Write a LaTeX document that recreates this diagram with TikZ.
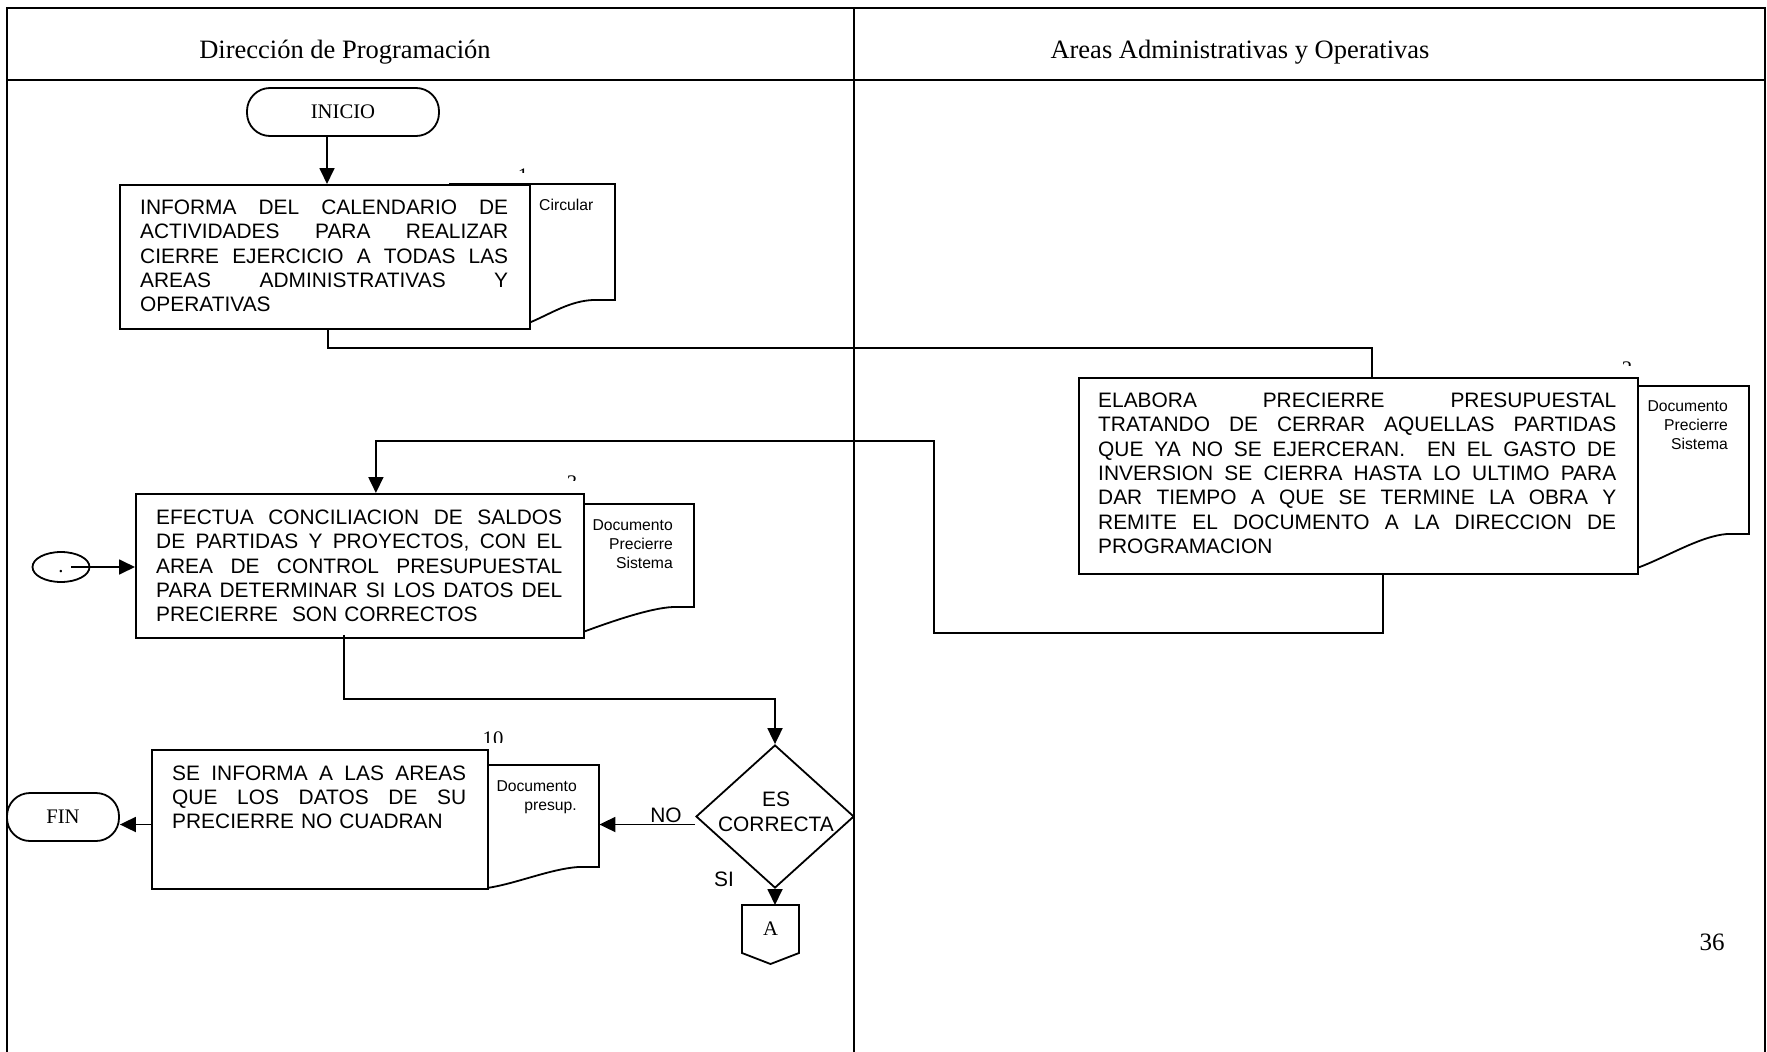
\documentclass[tikz,border=0pt]{standalone}
\usepackage{fontspec}
\newfontfamily\arialf{Liberation Sans}
\newfontfamily\tnr{Liberation Serif}
\usetikzlibrary{arrows.meta,shapes.geometric,calc}
\newcommand\jl[2]{{\spaceskip=0.278em plus 1fil minus 0.05em\xspaceskip=\spaceskip\makebox[#1][s]{#2}}}
\begin{document}
\begin{tikzpicture}[x=1pt,y=-1pt,
  frame/.style={line width=2pt},
  ln/.style={line width=1.8pt},
  arr/.style={line width=1.8pt,-{Triangle[length=16pt,width=15pt]}},
  box/.style={draw,line width=1.8pt,fill=white,rectangle,inner sep=0pt,anchor=north west},
  ghost/.style={rectangle,inner sep=0pt,anchor=north west},
  btxt/.style={inner sep=0pt,anchor=base west,align=left,font=\arialf\fontsize{20.9pt}{24.3pt}\selectfont},
  dtxt/.style={inner sep=0pt,anchor=base east,align=right,text width=120pt,font=\arialf\fontsize{15.7pt}{18.7pt}\selectfont},
  term/.style={draw,line width=1.8pt,rectangle,rounded corners=23pt,inner sep=0pt,font=\tnr\fontsize{20.7pt}{24pt}\selectfont},
  lbl/.style={inner sep=0pt,anchor=base,font=\arialf\fontsize{20.9pt}{25pt}\selectfont},
  hdr/.style={inner sep=0pt,anchor=base,font=\tnr\fontsize{26.5pt}{30pt}\selectfont},
  stepno/.style={inner sep=0pt,anchor=base,font=\tnr\fontsize{20.7pt}{24pt}\selectfont}
]
\useasboundingbox (0,0) rectangle (1767,1052);
\fill[white] (0,0) rectangle (1767,1052);

% frame and lanes
\draw[frame] (7,1052) -- (7,8) -- (1765,8) -- (1765,1052);
\draw[frame] (7,80) -- (1765,80);
\draw[frame] (854,8) -- (854,1052);
\node[hdr] (h1) at (345,58) {Dirección de Programación};
\node[hdr] (h2) at (1240,58) {Areas Administrativas y Operativas};

% clipped step numbers
\begin{scope}\clip (510,160) rectangle (540,172);
\node[stepno] (n1) at (523,182) {1};\end{scope}
\begin{scope}\clip (1610,355) rectangle (1645,365);
\node[stepno] (n2) at (1627,375) {2};\end{scope}
\begin{scope}\clip (558,468) rectangle (588,480);
\node[stepno] (n3) at (572,489) {3};\end{scope}
\begin{scope}\clip (475,722) rectangle (512,742);
\node[stepno] (n10) at (493,745) {10};\end{scope}

% document shapes (behind boxes)
\draw[ln,fill=white] (450,184) -- (615,184) -- (615,300) -- (593,300)
  .. controls (570,301) and (552,313) .. (531,322) -- (505,326) -- (450,326) -- cycle;
\node[ghost,minimum width=165pt,minimum height=116pt] (d1) at (450,184) {};
\node[inner sep=0pt,anchor=base west,font=\arialf\fontsize{15.7pt}{18.7pt}\selectfont] (d1t) at (539,210) {Circular};

\draw[ln,fill=white] (1580,386) -- (1749,386) -- (1749,534) -- (1727,534)
  .. controls (1700,536) and (1665,558) .. (1637,568) -- (1620,570) -- (1580,570) -- cycle;
\node[ghost,minimum width=169pt,minimum height=148pt] (d2) at (1580,386) {};
\node[dtxt] (d2t) at (1728,411.6) {Documento\\Precierre\\Sistema};

\draw[ln,fill=white] (520,504) -- (694,504) -- (694,607) -- (673,607)
  .. controls (650,608) and (610,622) .. (583,632) -- (570,634) -- (520,634) -- cycle;
\node[ghost,minimum width=174pt,minimum height=103pt] (d3) at (520,504) {};
\node[dtxt] (d3t) at (673,530.6) {Documento\\Precierre\\Sistema};

\draw[ln,fill=white] (440,765) -- (599,765) -- (599,867) -- (578,867)
  .. controls (550,869) and (515,884) .. (487,888) -- (470,886) -- (440,886) -- cycle;
\node[ghost,minimum width=159pt,minimum height=102pt] (d4) at (440,765) {};
\node[dtxt] (d4t) at (577,791.5) {Documento\\presup.};

% process boxes
\node[box,minimum width=410pt,minimum height=144pt] (b1) at (119,184) {};
\node[btxt,text width=368pt] (t1) at (140,214.5) {%
\jl{368pt}{INFORMA DEL CALENDARIO DE}\\
\jl{368pt}{ACTIVIDADES PARA REALIZAR}\\
\jl{368pt}{CIERRE EJERCICIO A TODAS LAS}\\
\jl{368pt}{AREAS ADMINISTRATIVAS Y}\\
OPERATIVAS};

\node[box,minimum width=559pt,minimum height=196pt] (b2) at (1078,377) {};
\node[btxt,text width=518pt] (t2) at (1098,407.5) {%
\jl{518pt}{ELABORA PRECIERRE PRESUPUESTAL}\\
\jl{518pt}{TRATANDO DE CERRAR AQUELLAS PARTIDAS}\\
\jl{518pt}{QUE YA NO SE EJERCERAN. \ EN EL GASTO DE}\\
\jl{518pt}{INVERSION SE CIERRA HASTA LO ULTIMO PARA}\\
\jl{518pt}{DAR TIEMPO A QUE SE TERMINE LA OBRA Y}\\
\jl{518pt}{REMITE EL DOCUMENTO A LA DIRECCION DE}\\
PROGRAMACION};

\node[box,minimum width=448pt,minimum height=144pt] (b3) at (135,493) {};
\node[btxt,text width=406pt] (t3) at (156,524.5) {%
\jl{406pt}{EFECTUA CONCILIACION DE SALDOS}\\
\jl{406pt}{DE PARTIDAS Y PROYECTOS, CON EL}\\
\jl{406pt}{AREA DE CONTROL PRESUPUESTAL}\\
\jl{406pt}{PARA DETERMINAR SI LOS DATOS DEL}\\
PRECIERRE\ \ SON CORRECTOS};

\node[box,minimum width=336pt,minimum height=139pt] (b4) at (151,749) {};
\node[btxt,text width=294pt] (t4) at (172,780) {%
\jl{294pt}{SE INFORMA A LAS AREAS}\\
\jl{294pt}{QUE LOS DATOS DE SU}\\
PRECIERRE NO CUADRAN};

% terminals and connectors
\node[term,minimum width=192pt,minimum height=48pt] (ini) at (343,112) {INICIO};
\node[term,minimum width=112pt,minimum height=48pt] (fin) at (63,817) {FIN};
\node[draw,line width=1.8pt,ellipse,inner sep=0pt,minimum width=57pt,minimum height=30pt] (el) at (61,567) {};
\node[stepno] (elt) at (61,572) {.};

\node[draw,line width=1.8pt,diamond,inner sep=0pt,minimum width=158pt,minimum height=143pt] (d) at (775,816.5) {};
\node[lbl,text width=150pt,align=center] (dt) at (776,806) {ES\\CORRECTA};
\node[lbl] (lno) at (666,822) {NO};
\node[lbl] (lsi) at (724,886) {SI};

\node[inner sep=0pt,font=\tnr\fontsize{20.7pt}{24pt}\selectfont] (offA) at (770.5,929) {A};
\coordinate (atop) at ($(offA)+(0,-24)$);
\draw[ln] ($(offA)+(-28.5,-24)$) -- ($(offA)+(28.5,-24)$) -- ($(offA)+(28.5,24)$)
  -- ($(offA)+(0,35)$) -- ($(offA)+(-28.5,24)$) -- cycle;

\node[inner sep=0pt,anchor=base,font=\tnr\fontsize{25pt}{30pt}\selectfont] (pg) at (1712,950) {36};

% arrows
\coordinate (p0) at ($(ini.south)+(-16,0)$);
\draw[arr] (p0) -- (p0 |- b1.north);

\coordinate (s1) at ($(b1.south)+(3,0)$);
\coordinate (e1) at ($(b2.north)+(13.5,0)$);
\draw[ln] (s1) -- ++(0,18) -| (e1);

\coordinate (s2) at ($(b2.south)+(24.5,0)$);
\coordinate (k1) at (934,633);
\coordinate (k2) at (934,441);
\coordinate (e2) at ($(b3.north)+(16,0)$);
\draw[arr] (s2) |- (k1) -- (k2) -| (e2);

\coordinate (s3) at ($(b3.south)+(-16,-4)$);
\draw[arr] (s3) -- ++(0,64) -| (d.north);

\coordinate (no) at ($(d.west)+(0,8)$);
\draw[arr] (no) -- (no -| d4.east);
\draw[arr] (no -| b4.west) -- (no -| fin.east);
\draw[arr] (d.south) -- (d.south |- atop);

\coordinate (s4) at ($(el.center)+(10,0)$);
\draw[arr] (s4) -- (s4 -| b3.west);
\end{tikzpicture}
\end{document}
